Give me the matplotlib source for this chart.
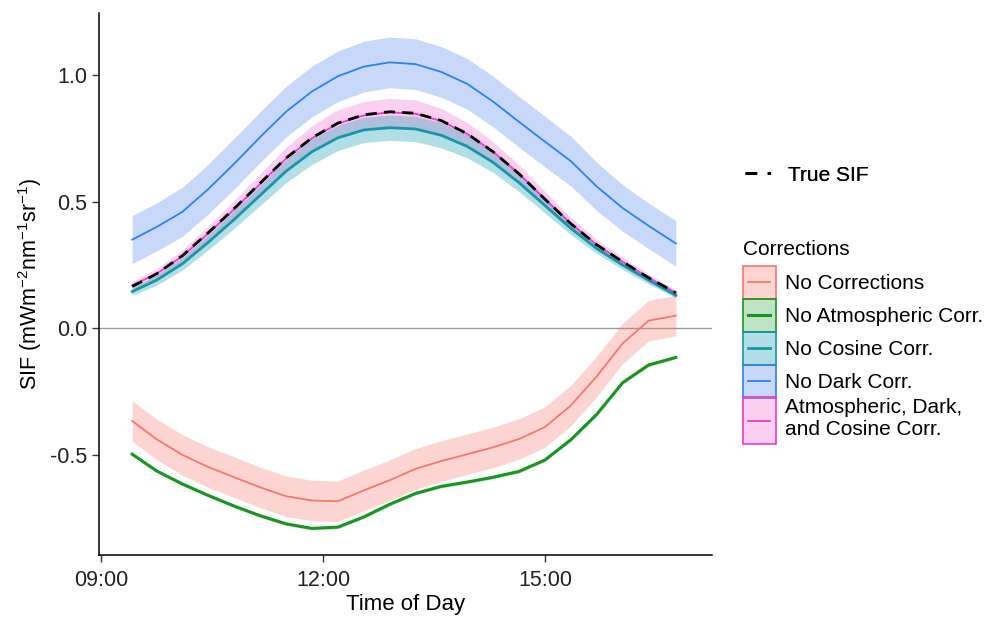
import matplotlib
matplotlib.use("Agg")
import matplotlib.pyplot as plt
from matplotlib.patches import Patch, Rectangle
from matplotlib.lines import Line2D
from matplotlib.legend_handler import HandlerBase

plt.rcParams['font.family'] = ['Liberation Sans', 'DejaVu Sans']
plt.rcParams['mathtext.default'] = 'regular'

# time of day in decimal hours
hours = [9.42, 9.75, 10.1, 10.45, 10.8, 11.15, 11.5, 11.85, 12.2, 12.55, 12.9,
         13.25, 13.6, 13.95, 14.3, 14.65, 15.0, 15.35, 15.7, 16.05, 16.4, 16.77]

no_corr = [-0.366, -0.438, -0.50, -0.548, -0.588, -0.628, -0.663, -0.68, -0.683, -0.64, -0.60,
           -0.555, -0.524, -0.497, -0.47, -0.437, -0.39, -0.305, -0.19, -0.06, 0.03, 0.05]
no_atm = [-0.497, -0.563, -0.615, -0.66, -0.702, -0.74, -0.772, -0.79, -0.785, -0.745, -0.695,
          -0.652, -0.624, -0.607, -0.588, -0.565, -0.52, -0.44, -0.34, -0.215, -0.145, -0.115]
no_cos = [0.145, 0.19, 0.255, 0.34, 0.43, 0.525, 0.62, 0.697, 0.752, 0.783, 0.792,
          0.787, 0.762, 0.718, 0.655, 0.575, 0.485, 0.395, 0.315, 0.25, 0.19, 0.13]
no_dark = [0.35, 0.40, 0.46, 0.55, 0.65, 0.755, 0.855, 0.935, 0.995, 1.033, 1.05,
           1.043, 1.012, 0.965, 0.895, 0.815, 0.737, 0.66, 0.56, 0.475, 0.405, 0.335]
all_corr = [0.17, 0.215, 0.285, 0.375, 0.47, 0.57, 0.67, 0.75, 0.808, 0.84, 0.853,
            0.847, 0.818, 0.767, 0.697, 0.61, 0.51, 0.413, 0.33, 0.263, 0.2, 0.14]
true_sif = [0.165, 0.215, 0.287, 0.378, 0.473, 0.573, 0.672, 0.752, 0.81, 0.843, 0.855,
            0.849, 0.82, 0.768, 0.697, 0.61, 0.51, 0.413, 0.33, 0.263, 0.2, 0.14]

# half widths of the shaded bands
no_corr_sd = [0.08] * len(hours)
no_atm_sd = [0.006] * len(hours)
no_cos_sd = [0.015, 0.02, 0.025, 0.03, 0.035, 0.04, 0.045, 0.05, 0.05, 0.05, 0.05,
             0.05, 0.05, 0.045, 0.04, 0.035, 0.03, 0.025, 0.02, 0.018, 0.015, 0.01]
no_dark_sd = [0.095, 0.095, 0.097, 0.098, 0.1, 0.1, 0.1, 0.1, 0.1, 0.1, 0.1,
              0.1, 0.1, 0.1, 0.1, 0.1, 0.1, 0.098, 0.095, 0.092, 0.09, 0.09]
all_corr_sd = [0.015, 0.02, 0.025, 0.03, 0.035, 0.04, 0.045, 0.05, 0.055, 0.055, 0.055,
               0.055, 0.05, 0.045, 0.04, 0.035, 0.03, 0.025, 0.02, 0.018, 0.015, 0.01]

labels = ["No Corrections", "No Atmospheric Corr.", "No Cosine Corr.", "No Dark Corr.",
          "Atmospheric, Dark,\nand Cosine Corr."]
series = [no_corr, no_atm, no_cos, no_dark, all_corr]
spreads = [no_corr_sd, no_atm_sd, no_cos_sd, no_dark_sd, all_corr_sd]
line_cols = ['#F8766D', '#16961E', '#1597A8', '#2A82F0', '#EE3AC6']
fill_cols = ['#F8766D', '#2E9E3E', '#0098AC', '#4A7FEE', '#F562CD']
line_w = [1.3, 2.2, 2.0, 1.3, 1.3]


class BandHandler(HandlerBase):
    def __init__(self, tall=1.0, up=0.5):
        super().__init__()
        self.tall = tall
        self.up = up

    def create_artists(self, legend, orig_handle, xdescent, ydescent, width, height, fontsize, trans):
        patch, line = orig_handle
        h = height * self.tall
        y0 = -ydescent - (h - height) * (1 - self.up)
        rect = Rectangle((-xdescent, y0), width, h, facecolor=patch.get_facecolor(),
                         edgecolor=patch.get_edgecolor(), lw=1.2, transform=trans)
        ym = y0 + h / 2
        ln = Line2D([-xdescent + 0.17 * width, -xdescent + 0.83 * width], [ym, ym],
                    color=line.get_color(), lw=line.get_linewidth(), transform=trans)
        return [rect, ln]


fig = plt.figure(figsize=(9.89, 6.17), dpi=100)
ax = fig.add_axes([0.100, 0.1005, 0.620, 0.8785])

ax.axhline(0, color='#9a9a9a', lw=1.0, zorder=1)

order = [3, 4, 2, 0, 1]
for i in order:
    lo = [v - s for v, s in zip(series[i], spreads[i])]
    hi = [v + s for v, s in zip(series[i], spreads[i])]
    ax.fill_between(hours, lo, hi, color=fill_cols[i], alpha=0.3, lw=0, zorder=2)
for i in order:
    ax.plot(hours, series[i], color=line_cols[i], lw=line_w[i], zorder=3)
ax.plot(hours, true_sif, color='black', lw=2.0, dashes=(4, 2.6), zorder=4)

ax.set_xlim(8.97, 17.26)
ax.set_ylim(-0.895, 1.245)
ax.set_xticks([9, 12, 15])
ax.set_xticklabels(["09:00", "12:00", "15:00"])
ax.set_yticks([-0.5, 0.0, 0.5, 1.0])
ax.set_yticklabels(["-0.5", "0.0", "0.5", "1.0"])
for s in ['top', 'right']:
    ax.spines[s].set_visible(False)
for s in ['left', 'bottom']:
    ax.spines[s].set_linewidth(1.1)
ax.tick_params(labelsize=15.5, length=5, width=1, colors='#333333', labelcolor='#222222')
ax.tick_params(axis='x', pad=6)
ax.set_xlabel("Time of Day", fontsize=16, labelpad=2)
ax.set_ylabel("SIF (mWm$^{-2}$nm$^{-1}$sr$^{-1}$)", fontsize=15.5, labelpad=4)

# legends
fs = 15
sif_handle = Line2D([], [], color='black', lw=2.0, dashes=(4.2, 3.8, 1.2, 6))
leg1 = fig.legend([sif_handle], ["True SIF"], loc='center left', bbox_to_anchor=(0.753, 0.716),
                  frameon=False, fontsize=fs, handlelength=1.3, handletextpad=0.8, borderpad=0,
                  borderaxespad=0)

band_handles = [(Patch(), Line2D([], [], color=line_cols[i], lw=line_w[i])) for i in range(5)]
for i, bh in enumerate(band_handles):
    bh[0].set_edgecolor(line_cols[i])
    bh[0].set_facecolor(matplotlib.colors.to_rgba(fill_cols[i], 0.3))
hmap = {bh: BandHandler() for bh in band_handles[:4]}
hmap[band_handles[4]] = BandHandler(1.42, 0.4)
leg2 = fig.legend(band_handles, labels, loc='upper left', bbox_to_anchor=(0.751, 0.611),
                  frameon=False, fontsize=fs, title="Corrections", title_fontsize=fs,
                  handlelength=1.59, handleheight=2.06, labelspacing=0, handletextpad=0.45,
                  borderpad=0, borderaxespad=0, handler_map=hmap, alignment='left')
leg2._legend_box.sep = 5  # gap between title and keys
fig.add_artist(leg1)

fig.savefig("out.png", dpi=100)
